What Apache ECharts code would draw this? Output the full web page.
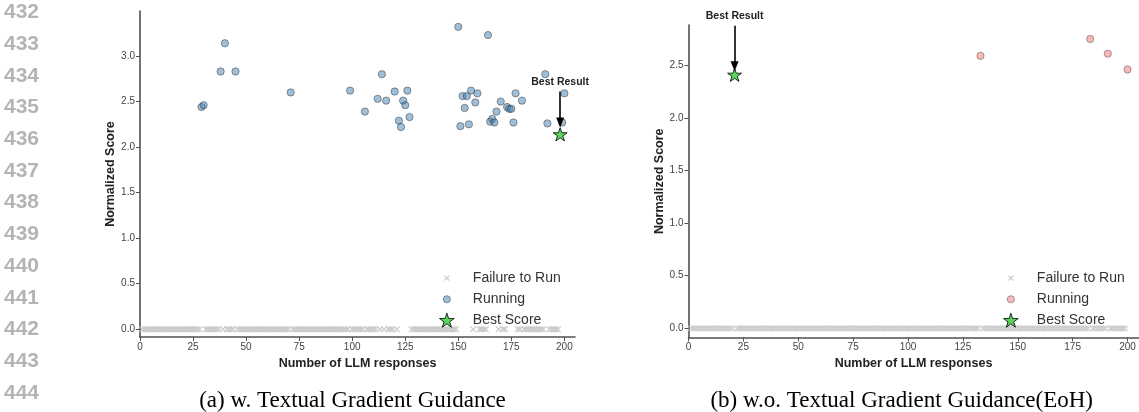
<!DOCTYPE html>
<html><head><meta charset="utf-8">
<script src="https://cdn.jsdelivr.net/npm/echarts@6/dist/echarts.min.js"></script>
<style>html,body{margin:0;padding:0;background:#fff}#c{width:1139px;height:412px}</style>
</head><body><div id="c"></div>
<script>
// ---- data ----
const xTicks = [0, 25, 50, 75, 100, 125, 150, 175, 200];
const yTicksA = [0, 0.5, 1, 1.5, 2, 2.5, 3];
const yTicksB = [0, 0.5, 1, 1.5, 2, 2.5];
const lineNumbers = ['432','433','434','435','436','437','438','439','440','441','442','443','444'];
const captionA = '(a) w. Textual Gradient Guidance';
const captionB = '(b) w.o. Textual Gradient Guidance(EoH)';
const legendNames = ['Failure to Run', 'Running', 'Best Score'];
const annotationText = 'Best Result';

// panel (a)
const runAX = [29,30,38,40,45,71,99,106,112,114,116,120,122,123,124,125,126,127,150,151,152,153,154,155,156,158,159,164,165,166,167,168,170,173,174,175,176,177,180,191,192,199,200];
const runAY = [2.44,2.46,2.83,3.14,2.83,2.60,2.62,2.39,2.53,2.80,2.51,2.61,2.29,2.22,2.51,2.46,2.62,2.33,3.32,2.23,2.56,2.43,2.56,2.25,2.62,2.49,2.59,3.23,2.28,2.31,2.27,2.39,2.50,2.44,2.42,2.42,2.27,2.59,2.51,2.80,2.26,2.27,2.59];
const bestA = [198, 2.14];
const arrowAY = [2.61, 2.27];
const failAX = [1,2,3,4,5,6,7,8,9,10,11,12,13,14,15,16,17,18,19,20,21,22,23,24,25,26,27,28,
  31,32,33,34,35,36,37,39,41,42,43,44,
  46,47,48,49,50,51,52,53,54,55,56,57,58,59,60,61,62,63,64,65,66,67,68,69,70,
  72,73,74,75,76,77,78,79,80,81,82,83,84,85,86,87,88,89,90,91,92,93,94,95,96,97,98,
  100,101,102,103,104,105,107,108,109,110,111,113,115,117,118,119,121,
  128,129,130,131,132,133,134,135,136,137,138,139,140,141,142,143,144,145,146,147,148,149,
  157,160,161,162,163,169,171,172,178,179,
  181,182,183,184,185,186,187,188,189,190,193,194,195,196,197];

// panel (b)
const runBX = [133, 183, 191, 200];
const runBY = [2.59, 2.75, 2.61, 2.46];
const bestB = [21, 2.41];
const arrowBY = [2.876, 2.49];
const failBX = [1,2,3,4,5,6,7,8,9,10,11,12,13,14,15,16,17,18,19,20,
  22,23,24,25,26,27,28,29,30,
  31,32,33,34,35,36,37,38,39,40,
  41,42,43,44,45,46,47,48,49,50,
  51,52,53,54,55,56,57,58,59,60,
  61,62,63,64,65,66,67,68,69,70,
  71,72,73,74,75,76,77,78,79,80,
  81,82,83,84,85,86,87,88,89,90,
  91,92,93,94,95,96,97,98,99,100,
  101,102,103,104,105,106,107,108,109,110,
  111,112,113,114,115,116,117,118,119,120,
  121,122,123,124,125,126,127,128,129,130,
  131,132,134,135,136,137,138,139,140,
  141,142,143,144,145,146,147,148,149,150,
  151,152,153,154,155,156,157,158,159,160,
  161,162,163,164,165,166,167,168,169,170,
  171,172,173,174,175,176,177,178,179,180,
  181,182,184,185,186,187,188,189,190,
  192,193,194,195,196,197,198,199];

// ---- styles ----
const FONT = '"Liberation Sans", Arial, sans-serif';
const starPath = 'path://M0,-10L2.245,-3.09L9.511,-3.09L3.633,1.18L5.878,8.09L0,3.82L-5.878,8.09L-3.633,1.18L-9.511,-3.09L-2.245,-3.09Z';
const xPath = 'path://M0,0L10,10M10,0L0,10';
const xIcon = 'path://M0,0M14,14M4.6,4.6L9.4,9.4M9.4,4.6L4.6,9.4';
const circleIcon = 'path://M0,0M14,14M10.6,7A3.6,3.6,0,1,1,3.4,7A3.6,3.6,0,1,1,10.6,7Z';

const failStyle = {color: '#c4c4c4', borderColor: '#c4c4c4', borderWidth: 1.3};
const runAStyle = {color: 'rgba(70,130,180,0.65)', borderColor: 'rgba(30,30,30,0.6)', borderWidth: 0.9};
const runBStyle = {color: 'rgba(240,128,128,0.7)', borderColor: 'rgba(60,60,60,0.6)', borderWidth: 0.9};
const bestStyle = {color: '#32cd32', borderColor: '#000', borderWidth: 1};

function xAxisFor(gi) {
  return {
    type: 'value', gridIndex: gi, min: 0, max: 205,
    name: 'Number of LLM responses', nameLocation: 'middle', nameGap: 14,
    nameTextStyle: {fontFamily: FONT, fontSize: 12.5, fontWeight: 'bold', color: '#222'},
    axisLine: {show: true, onZero: false, lineStyle: {color: '#505050', width: 1.6}},
    axisTick: {show: true, length: 4, customValues: xTicks, lineStyle: {color: '#505050', width: 1}},
    axisLabel: {customValues: xTicks, margin: 5, fontFamily: FONT, fontSize: 10, color: '#444'},
    splitLine: {show: false}
  };
}
function yAxisFor(gi, mn, mx, ticks) {
  return {
    type: 'value', gridIndex: gi, min: mn, max: mx,
    name: 'Normalized Score', nameLocation: 'middle', nameGap: 21, nameRotate: 90,
    nameTextStyle: {fontFamily: FONT, fontSize: 12.5, fontWeight: 'bold', color: '#222'},
    axisLine: {show: true, onZero: false, lineStyle: {color: '#505050', width: 1.6}},
    axisTick: {show: true, length: 4, customValues: ticks, lineStyle: {color: '#505050', width: 1}},
    axisLabel: {customValues: ticks, margin: 5, fontFamily: FONT, fontSize: 10, color: '#444',
      formatter: v => Number(v).toFixed(1)},
    splitLine: {show: false}
  };
}
function arrowLine(best, ys) {
  return {
    silent: true, animation: false,
    symbol: ['none', 'triangle'], symbolSize: [8, 10],
    lineStyle: {color: '#000', width: 1.6, type: 'solid'},
    emphasis: {disabled: true},
    label: {show: true, position: 'start', formatter: annotationText, distance: 4,
      fontFamily: FONT, fontSize: 10.5, fontWeight: 'bold', color: '#222'},
    data: [[{coord: [best[0], ys[0]]}, {coord: [best[0], ys[1]]}]]
  };
}
function legendFor(prefix, left, runStyle) {
  return {
    orient: 'vertical', left: left, top: 270.5, padding: 0,
    itemWidth: 42, itemHeight: 14, itemGap: 6, selectedMode: false,
    formatter: n => n.split('|')[1],
    textStyle: {fontFamily: FONT, fontSize: 14, color: '#333'},
    data: [
      {name: prefix + '|' + legendNames[0], icon: xIcon, itemStyle: failStyle},
      {name: prefix + '|' + legendNames[1], icon: circleIcon, itemStyle: runStyle},
      {name: prefix + '|' + legendNames[2], icon: starPath, itemStyle: bestStyle}
    ]
  };
}

const graphics = [];
lineNumbers.forEach((t, i) => {
  graphics.push({type: 'text', x: 4, y: 12.5 + i * 31.7,
    style: {text: t, fontFamily: FONT, fontSize: 21, fontWeight: 'bold', fill: '#b4b4b4',
      align: 'left', verticalAlign: 'middle'}});
});
graphics.push({type: 'text', x: 352.5, y: 401,
  style: {text: captionA, fontFamily: '"Liberation Serif", "Times New Roman", serif', fontSize: 23,
    fill: '#000', align: 'center', verticalAlign: 'middle'}});
graphics.push({type: 'text', x: 901.7, y: 401,
  style: {text: captionB, fontFamily: '"Liberation Serif", "Times New Roman", serif', fontSize: 23,
    fill: '#000', align: 'center', verticalAlign: 'middle'}});

const chart = echarts.init(document.getElementById('c'), null, {renderer: 'canvas'});
chart.setOption({
  animation: false,
  backgroundColor: '#fff',
  grid: [
    {left: 140, top: 11, width: 435, height: 326},
    {left: 688.5, top: 25, width: 450, height: 312.5}
  ],
  xAxis: [xAxisFor(0), xAxisFor(1)],
  yAxis: [yAxisFor(0, -0.085, 3.494, yTicksA), yAxisFor(1, -0.087, 2.883, yTicksB)],
  legend: [legendFor('a', 439, runAStyle), legendFor('b', 1003, runBStyle)],
  graphic: graphics,
  series: [
    {name: 'a|' + legendNames[0], type: 'scatter', xAxisIndex: 0, yAxisIndex: 0,
      symbol: xPath, symbolSize: 5.5, itemStyle: failStyle, silent: true,
      data: failAX.map(x => [x, 0])},
    {name: 'a|' + legendNames[1], type: 'scatter', xAxisIndex: 0, yAxisIndex: 0,
      symbol: 'circle', symbolSize: 7.3, itemStyle: runAStyle, silent: true,
      data: runAX.map((x, i) => [x, runAY[i]])},
    {name: 'a|' + legendNames[2], type: 'scatter', xAxisIndex: 0, yAxisIndex: 0,
      symbol: starPath, symbolSize: 14, symbolKeepAspect: true, itemStyle: bestStyle, silent: true, z: 3,
      data: [bestA], markLine: arrowLine(bestA, arrowAY)},
    {name: 'b|' + legendNames[0], type: 'scatter', xAxisIndex: 1, yAxisIndex: 1,
      symbol: xPath, symbolSize: 5.5, itemStyle: failStyle, silent: true,
      data: failBX.map(x => [x, 0])},
    {name: 'b|' + legendNames[1], type: 'scatter', xAxisIndex: 1, yAxisIndex: 1,
      symbol: 'circle', symbolSize: 7.3, itemStyle: runBStyle, silent: true,
      data: runBX.map((x, i) => [x, runBY[i]])},
    {name: 'b|' + legendNames[2], type: 'scatter', xAxisIndex: 1, yAxisIndex: 1,
      symbol: starPath, symbolSize: 14, symbolKeepAspect: true, itemStyle: bestStyle, silent: true, z: 3,
      data: [bestB], markLine: arrowLine(bestB, arrowBY)}
  ]
});
</script></body></html>
